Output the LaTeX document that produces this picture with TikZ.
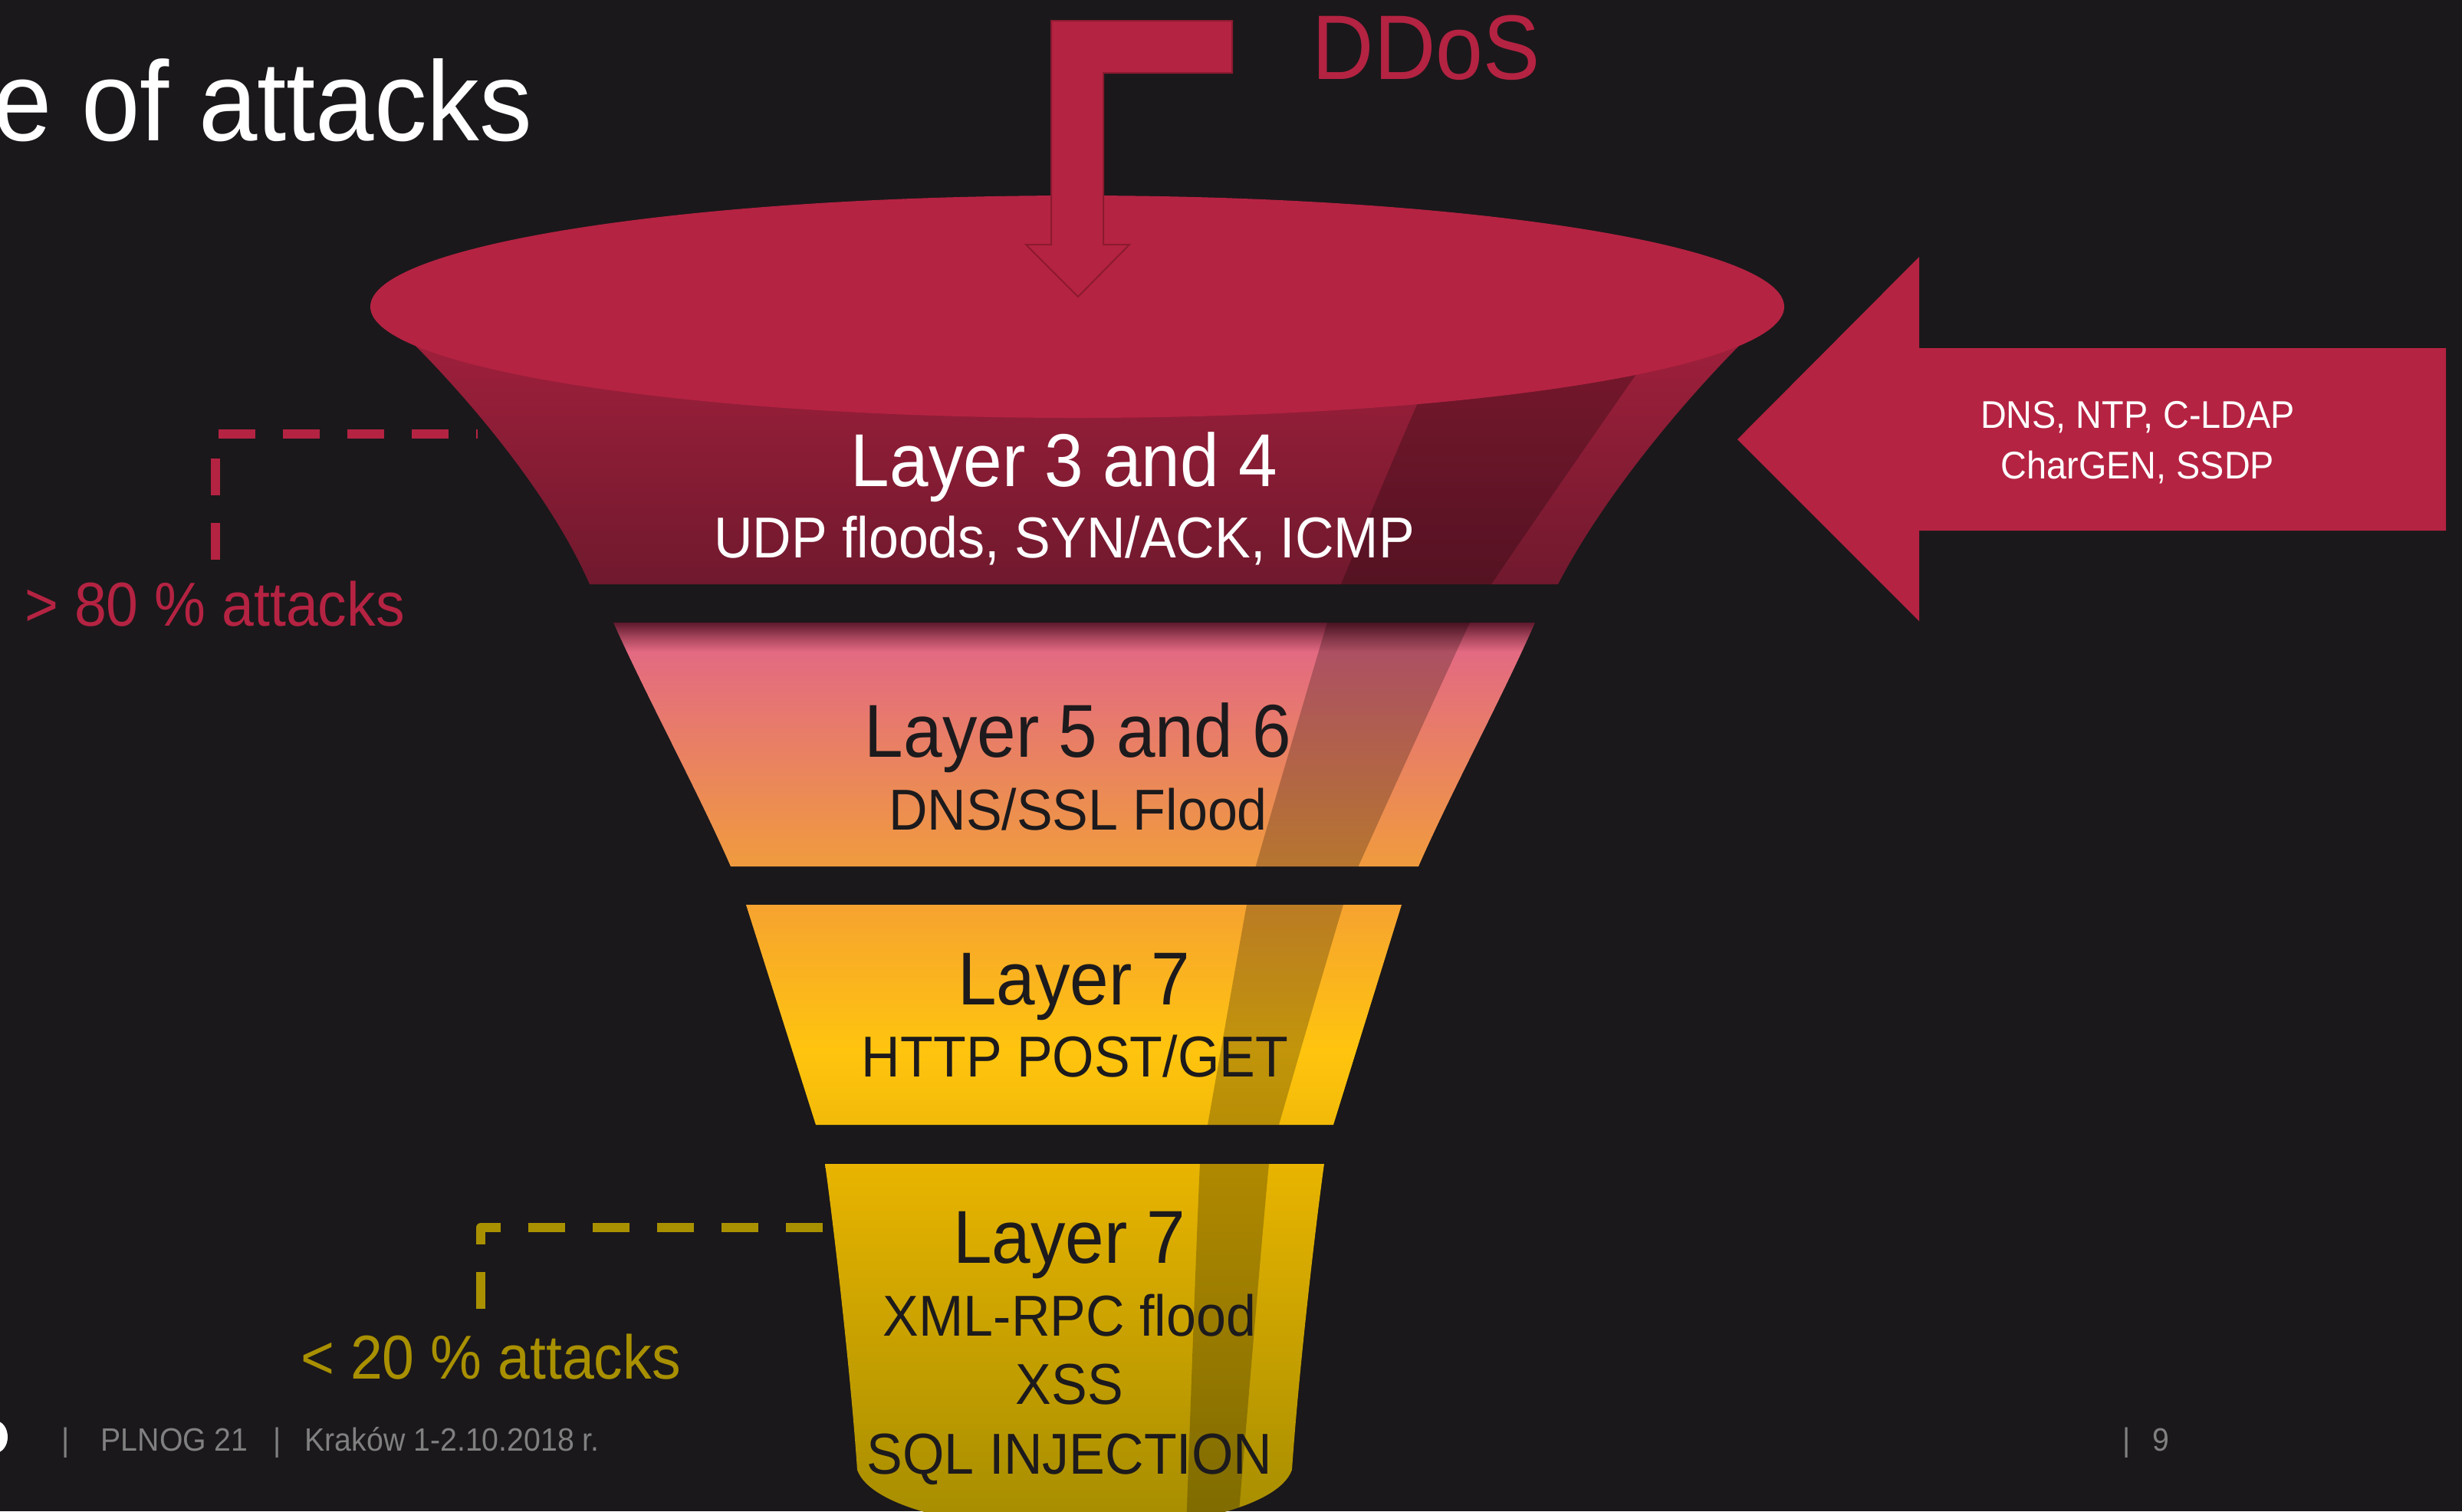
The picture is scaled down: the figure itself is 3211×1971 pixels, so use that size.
\documentclass[tikz,border=0pt]{standalone}
\usepackage{fontspec}
\setmainfont{Liberation Sans}[FakeStretch=0.93]
\usepackage{xcolor}

\definecolor{slidebg}{RGB}{26,24,27}
\definecolor{ddosred}{RGB}{181,35,66}
\definecolor{ddosedge}{RGB}{140,26,48}
\definecolor{funneltop}{RGB}{165,32,61}
\definecolor{funnelbot}{RGB}{112,25,46}
\definecolor{darkfive}{RGB}{95,25,45}
\definecolor{pinkfive}{RGB}{227,106,130}
\definecolor{orangefive}{RGB}{240,155,62}
\definecolor{orangeseven}{RGB}{246,163,48}
\definecolor{goldseven}{RGB}{255,196,14}
\definecolor{goldsevenb}{RGB}{242,186,8}
\definecolor{olivetop}{RGB}{232,180,0}
\definecolor{olivebot}{RGB}{165,140,0}
\definecolor{attackolive}{RGB}{169,144,0}
\definecolor{textdark}{RGB}{28,26,28}
\definecolor{footgray}{RGB}{128,128,128}

\pgfdeclareverticalshading{shadefivesix}{100bp}{color(0bp)=(orangefive); color(25bp)=(orangefive);
  color(69bp)=(pinkfive); color(72bp)=(pinkfive!55!darkfive); color(75bp)=(darkfive); color(100bp)=(darkfive)}
\pgfdeclareverticalshading{shadeseven}{100bp}{color(0bp)=(goldsevenb); color(25bp)=(goldsevenb);
  color(42bp)=(goldseven); color(75bp)=(orangeseven); color(100bp)=(orangeseven)}

% funnel outlines
\newcommand{\layerthreefour}{(542,451) .. controls (620,530) and (720,650) .. (769,762) -- (2032,762)
  .. controls (2090,650) and (2190,530) .. (2268,451) -- (2268,400) -- (542,400) -- cycle}
\newcommand{\layerfivesix}{(800,812) .. controls (845,912) and (910,1032) .. (953,1130) -- (1850,1130)
  .. controls (1893,1032) and (1958,912) .. (2002,812) -- cycle}
\newcommand{\layerseventop}{(973,1180) -- (1064,1467) -- (1739,1467) -- (1828,1180) -- cycle}
\newcommand{\layersevenbot}{(1076,1518) .. controls (1090,1620) and (1110,1800) .. (1118,1917)
  .. controls (1135,1965) and (1260,1995) .. (1401,1995) .. controls (1542,1995) and (1668,1965) .. (1685,1917)
  .. controls (1693,1800) and (1713,1620) .. (1727,1518) -- cycle}
\newcommand{\attackband}{plot[smooth] coordinates {(1912,400) (1848,528) (1749,762) (1731,812) (1638,1129)
  (1626,1180) (1575,1467) (1565,1518) (1547,1995)} -- plot[smooth] coordinates {(1614,1995) (1655,1518)
  (1668,1467) (1752,1180) (1772,1129) (1917,812) (1945,762) (2132,491) (2200,400)} -- cycle}

\begin{document}
\begin{tikzpicture}[x=0.01cm, y=-0.01cm,
  layertitle/.style={font=\fontsize{27.8}{33}\selectfont, anchor=base, inner sep=0pt},
  layersub/.style={font=\fontsize{21.4}{26}\selectfont, anchor=base, inner sep=0pt},
  attacklabel/.style={font=\fontsize{23}{28}\selectfont, anchor=base, inner sep=0pt},
  footer/.style={font=\fontsize{12}{14}\selectfont, text=footgray, anchor=base west, inner sep=0pt},
  leader/.style={line width=0.12cm, dash pattern=on 0.48cm off 0.36cm, line join=round}]

\useasboundingbox (0,0) rectangle (3211,1971);
\fill[slidebg] (0,0) rectangle (3211,1971);

% title:
\node[font=\fontsize{42}{50}\selectfont, text=white, anchor=base east, inner sep=0pt] (title) at (695,183) {e of attacks};

% funnel layers:
\shade[top color=funneltop, bottom color=funnelbot] \layerthreefour;
\shade[shading=shadefivesix] \layerfivesix;
\shade[shading=shadeseven] \layerseventop;
\shade[top color=olivetop, bottom color=olivebot] \layersevenbot;

\begin{scope}
\clip \layerthreefour \layerfivesix \layerseventop \layersevenbot;
\fill[black, opacity=0.24] \attackband;
\end{scope}

\fill[ddosred] (1405,400) ellipse (922 and 145);

% DDoS arrow:
\filldraw[fill=ddosred, draw=ddosedge, line width=0.02cm] (1371,27) -- (1607,27) -- (1607,95) -- (1439,95)
  -- (1439,319) -- (1473,319) -- (1406,387) -- (1338,319) -- (1371,319) -- cycle;
\node[font=\fontsize{34}{40}\selectfont, text=ddosred, anchor=base west, inner sep=0pt] (ddos) at (1711,103) {DDoS};

% side arrow:
\fill[ddosred] (2266,573) -- (2503,335) -- (2503,454) -- (3190,454) -- (3190,692) -- (2503,692) -- (2503,810) -- cycle;
\node[font=\fontsize{14.3}{17}\selectfont, text=white, anchor=base, inner sep=0pt] (amp1) at (2788,558) {DNS, NTP, C-LDAP};
\node[font=\fontsize{14.3}{17}\selectfont, text=white, anchor=base, inner sep=0pt] (amp2) at (2788,624) {CharGEN, SSDP};

% layer texts:
\node[layertitle, text=white] (l34) at (1388,634) {Layer 3 and 4};
\node[layersub, text=white] (l34s) at (1388,727) {UDP floods, SYN/ACK, ICMP};

\node[layertitle, text=textdark] (l56) at (1406,987) {Layer 5 and 6};
\node[layersub, text=textdark] (l56s) at (1406,1082) {DNS/SSL Flood};

\node[layertitle, text=textdark] (l7a) at (1401,1310) {Layer 7};
\node[layersub, text=textdark] (l7as) at (1402,1404) {HTTP POST/GET};

\node[layertitle, text=textdark] (l7b) at (1395,1647) {Layer 7};
\node[layersub, text=textdark] (l7b1) at (1395,1742) {XML-RPC flood};
\node[layersub, text=textdark] (l7b2) at (1395,1831) {XSS};
\node[layersub, text=textdark] (l7b3) at (1395,1922) {SQL INJECTION};

% share labels:
\node[attacklabel, text=ddosred] (more) at (280,816) {> 80 \% attacks};
\coordinate (redfoot) at (281,730);
\coordinate (redend) at (623,566);
\draw[leader, ddosred] (redfoot) |- (redend);

\node[attacklabel, text=attackolive] (less) at (640,1798) {< 20 \% attacks};
\coordinate (olivestart) at (1073,1601);
\coordinate (olivefoot) at (627,1707);
\draw[leader, attackolive] (olivestart) -| (olivefoot);

% footer:
\fill[white] (-6,1874) ellipse (16 and 21);
\node[footer] (bar1) at (80,1892) {|};
\node[footer] (event) at (131,1892) {PLNOG 21};
\node[footer] (bar2) at (356,1892) {|};
\node[footer] (place) at (397,1892) {Kraków 1-2.10.2018 r.};
\node[footer] (bar3) at (2768,1892) {|};
\node[footer] (page) at (2807,1892) {9};

\end{tikzpicture}
\end{document}
